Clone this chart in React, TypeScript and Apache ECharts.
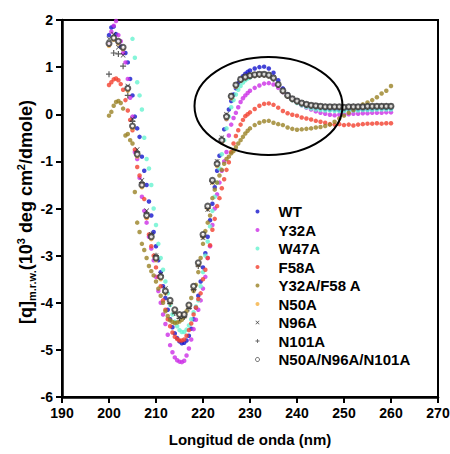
import React, { useEffect, useRef } from 'react';
import * as echarts from 'echarts';

// Wavelength grid (nm): 0.5 nm steps 200-229.5, then 1 nm steps 230-260
const wavelengths = [
  200, 200.5, 201, 201.5, 202, 202.5, 203, 203.5, 204, 204.5,
  205, 205.5, 206, 206.5, 207, 207.5, 208, 208.5, 209, 209.5,
  210, 210.5, 211, 211.5, 212, 212.5, 213, 213.5, 214, 214.5,
  215, 215.5, 216, 216.5, 217, 217.5, 218, 218.5, 219, 219.5,
  220, 220.5, 221, 221.5, 222, 222.5, 223, 223.5, 224, 224.5,
  225, 225.5, 226, 226.5, 227, 227.5, 228, 228.5, 229, 229.5,
  230, 231, 232, 233, 234, 235, 236, 237, 238, 239,
  240, 241, 242, 243, 244, 245, 246, 247, 248, 249,
  250, 251, 252, 253, 254, 255, 256, 257, 258, 259,
  260,
];

const seriesNames = ['WT', 'Y32A', 'W47A', 'F58A', 'Y32A/F58 A', 'N50A', 'N96A', 'N101A', 'N50A/N96A/N101A'];

const wt = [
  1.68, 1.84, 1.86, 1.7, 1.52, 1.44, 1.38, 1.3, 1.1, 0.75,
  0.4, -0.05, -0.3, -0.48, -0.9, -1.2, -1.5, -1.85, -2.15, -2.5,
  -2.8, -3.1, -3.35, -3.65, -3.9, -4.15, -4.35, -4.52, -4.65, -4.75,
  -4.82, -4.86, -4.85, -4.8, -4.7, -4.55, -4.35, -4.1, -3.85, -3.55,
  -3.25, -2.95, -2.6, -2.25, -1.9, -1.55, -1.2, -0.88, -0.55, -0.32,
  -0.1, 0.1, 0.28, 0.42, 0.55, 0.66, 0.74, 0.81, 0.86, 0.9,
  0.93, 0.97, 1.0, 1.01, 0.97, 0.88, 0.72, 0.55, 0.42, 0.33,
  0.27, 0.22, 0.18, 0.15, 0.13, 0.12, 0.11, 0.1, 0.1, 0.09,
  0.09, 0.1, 0.09, 0.1, 0.1, 0.11, 0.11, 0.12, 0.12, 0.12,
  0.12,
];

const y32a = [
  1.48, 1.75, 1.88, 1.98, 1.68, 1.55, 1.3, 1.1, 0.75, 0.35,
  -0.05, -0.8, -0.95, -1.35, -1.75, -2.05, -2.3, -2.6, -2.85, -3.1,
  -3.45, -3.75, -4.0, -4.25, -4.45, -4.68, -4.9, -5.05, -5.16, -5.22,
  -5.25, -5.26, -5.23, -5.12, -4.97, -4.78, -4.56, -4.36, -4.15, -3.95,
  -3.7, -3.45, -3.05, -2.8, -2.35, -2.0, -1.7, -1.45, -1.2, -1.0,
  -0.8, -0.45, -0.22, -0.08, 0.03, 0.15, 0.26, 0.34, 0.4, 0.45,
  0.5, 0.56, 0.61, 0.65, 0.66, 0.63, 0.56, 0.47, 0.4, 0.32,
  0.25, 0.19, 0.14, 0.1, 0.06, 0.03, 0.01, -0.01, -0.02, -0.01,
  0.0, 0.0, 0.01, 0.01, 0.02, 0.02, 0.03, 0.03, 0.03, 0.04,
  0.04,
];

const w47a = [
  null, null, null, null, null, null, null, null, null, null,
  1.6, 1.2, 0.68, 0.4, 0.1, -0.5, -0.95, -1.15, -1.5, -2.0,
  -2.35, -2.75, -3.05, -3.3, -3.55, -3.8, -4.05, -4.25, -4.4, -4.5,
  -4.58, -4.62, -4.62, -4.57, -4.48, -4.35, -4.2, -4.08, -3.95, -3.65,
  -3.35, -3.0, -2.7, -2.38, -2.05, -1.75, -1.45, -1.15, -0.85, -0.55,
  -0.3, -0.05, 0.15, 0.3, 0.42, 0.52, 0.6, 0.67, 0.72, 0.76,
  0.78, 0.82, 0.84, 0.85, 0.83, 0.76, 0.64, 0.5, 0.39, 0.3,
  0.24, 0.19, 0.15, 0.12, 0.1, 0.09, 0.08, 0.08, 0.07, 0.07,
  0.07, 0.08, 0.08, 0.08, 0.09, 0.09, 0.09, 0.1, 0.1, 0.1,
  0.1,
];

const f58a = [
  0.62, 0.68, 0.74, 0.76, 0.72, 0.64, 0.52, 0.3, 0.08, -0.12,
  -0.34, -0.75, -1.12, -1.3, -1.48, -1.8, -2.2, -2.55, -2.8, -3.0,
  -3.25, -3.45, -3.65, -3.95, -4.15, -4.35, -4.5, -4.63, -4.72, -4.77,
  -4.8, -4.8, -4.78, -4.7, -4.58, -4.44, -4.25, -4.1, -3.92, -3.8,
  -3.5, -3.3, -3.05, -2.78, -2.45, -2.22, -1.95, -1.78, -1.57, -1.38,
  -1.18, -1.02, -0.8, -0.62, -0.46, -0.34, -0.22, -0.12, -0.04, 0.0,
  0.04, 0.11, 0.18, 0.22, 0.23, 0.2, 0.14, 0.07, 0.02, -0.01,
  -0.03, -0.07, -0.09, -0.11, -0.14, -0.16, -0.18, -0.21, -0.22, -0.21,
  -0.23, -0.22, -0.24, -0.22, -0.21, -0.2, -0.2, -0.19, -0.2, -0.19,
  -0.19,
];

const y32aF58a = [
  -0.03, 0.05, 0.18, 0.26, 0.28, 0.24, 0.12, -0.45, -0.42, -0.55,
  -0.62, -1.65, -2.3, -2.5, -2.75, -2.88, -3.05, -3.22, -3.33, -3.42,
  -3.55, -3.7, -3.85, -4.0, -4.18, -4.28, -4.37, -4.41, -4.43, -4.42,
  -4.4, -4.36, -4.3, -4.18, -4.05, -3.9, -3.75, -3.62, -3.35, -3.05,
  -2.75, -2.48, -2.3, -2.15, -1.78, -1.6, -1.45, -1.3, -1.18, -1.05,
  -0.95, -0.9, -0.83, -0.78, -0.7, -0.62, -0.55, -0.48, -0.41, -0.35,
  -0.3, -0.23, -0.18, -0.15, -0.14, -0.18, -0.21, -0.23, -0.28, -0.31,
  -0.33, -0.32, -0.31, -0.3, -0.28, -0.27, -0.25, -0.22, -0.16, -0.09,
  -0.03, 0.03, 0.09, 0.15, 0.21, 0.25, 0.3, 0.36, 0.44, 0.5,
  0.6,
];

const n50a = [
  1.45, null, 1.58, null, 1.5, null, 1.38, null, 0.5, null,
  -0.3, null, -0.9, null, -1.55, null, -2.2, null, -2.65, null,
  -3.1, null, -3.5, null, -3.8, null, -4.0, null, -4.18, null,
  -4.27, null, -4.26, null, -4.08, null, -3.7, null, -3.2, null,
  -2.6, null, -2.0, null, -1.45, null, -1.1, null, -0.6, null,
  -0.1, null, 0.34, null, 0.58, null, 0.71, null, 0.77, null,
  0.8, 0.82, 0.83, 0.83, 0.81, 0.75, 0.61, 0.48, 0.38, 0.31,
  0.26, 0.22, 0.19, 0.17, 0.16, 0.15, 0.15, 0.14, 0.14, 0.14,
  0.14, 0.14, 0.15, 0.15, 0.15, 0.15, 0.16, 0.16, 0.16, 0.16,
  0.16,
];

const n96a = [
  1.6, null, 1.7, null, 1.42, null, 1.25, null, 0.6, null,
  -0.1, null, -0.75, null, -1.4, null, -2.05, null, -2.55, null,
  -3.0, null, -3.4, null, -3.7, null, -3.98, null, -4.2, null,
  -4.3, null, -4.28, null, -4.1, null, -3.7, null, -3.2, null,
  -2.62, null, -2.02, null, -1.45, null, -1.0, null, -0.5, null,
  0.0, null, 0.4, null, 0.63, null, 0.75, null, 0.8, null,
  0.83, 0.85, 0.86, 0.86, 0.84, 0.78, 0.64, 0.51, 0.41, 0.34,
  0.29, 0.25, 0.22, 0.2, 0.19, 0.18, 0.17, 0.17, 0.17, 0.16,
  0.16, 0.16, 0.17, 0.17, 0.17, 0.17, 0.18, 0.18, 0.18, 0.18,
  0.18,
];

const n101a = [
  0.85, null, 1.3, null, 1.28, null, 1.02, null, 0.4, null,
  -0.15, null, -0.8, null, -1.45, null, -2.1, null, -2.55, null,
  -3.0, null, -3.42, null, -3.78, null, -4.02, null, -4.22, null,
  -4.33, null, -4.3, null, -4.12, null, -3.72, null, -3.22, null,
  -2.6, null, -2.0, null, -1.42, null, -1.02, null, -0.52, null,
  -0.03, null, 0.39, null, 0.61, null, 0.73, null, 0.78, null,
  0.81, 0.83, 0.84, 0.84, 0.82, 0.76, 0.62, 0.49, 0.39, 0.32,
  0.27, 0.23, 0.2, 0.18, 0.17, 0.16, 0.16, 0.15, 0.15, 0.15,
  0.15, 0.15, 0.16, 0.16, 0.16, 0.16, 0.16, 0.17, 0.17, 0.17,
  0.17,
];

const triple = [
  1.5, null, 1.62, null, 1.55, null, 1.42, null, 0.55, null,
  -0.25, null, -0.85, null, -1.5, null, -2.15, null, -2.6, null,
  -3.05, null, -3.45, null, -3.75, null, -3.95, null, -4.15, null,
  -4.25, null, -4.25, null, -4.05, null, -3.65, null, -3.15, null,
  -2.55, null, -1.95, null, -1.4, null, -1.05, null, -0.55, null,
  -0.05, null, 0.38, null, 0.62, null, 0.74, null, 0.79, null,
  0.82, 0.84, 0.85, 0.85, 0.83, 0.77, 0.63, 0.5, 0.4, 0.33,
  0.28, 0.24, 0.21, 0.19, 0.18, 0.17, 0.16, 0.16, 0.16, 0.16,
  0.15, 0.16, 0.16, 0.16, 0.16, 0.17, 0.17, 0.17, 0.17, 0.17,
  0.17,
];

const seriesValues = [wt, y32a, w47a, f58a, y32aF58a, n50a, n96a, n101a, triple];

const FONT = "'Liberation Sans', Arial, Helvetica, sans-serif";
const CROSS = 'path://M0,1L1,0L5,4L9,0L10,1L6,5L10,9L9,10L5,6L1,10L0,9L4,5Z';
const PLUS = 'path://M4,0L6,0L6,4L10,4L10,6L6,6L6,10L4,10L4,6L0,6L0,4L4,4Z';

const styles = [
  { color: '#1414cc', symbol: 'circle', size: 4.5 },
  { color: '#cc2ee6', symbol: 'circle', size: 4.5 },
  { color: '#66f2d0', symbol: 'circle', size: 4.5 },
  { color: '#f2402e', symbol: 'circle', size: 4.5 },
  { color: '#9a8226', symbol: 'circle', size: 4.5 },
  { color: '#f5b041', symbol: 'circle', size: 4.5 },
  { color: '#222222', symbol: CROSS, size: 5 },
  { color: '#333333', symbol: PLUS, size: 6 },
  { color: '#3a3a3a', symbol: 'emptyCircle', size: 5 },
];

function toPoints(vals: (number | null)[]) {
  const pts: [number, number][] = [];
  wavelengths.forEach((w, i) => {
    const v = vals[i];
    if (v !== null && v !== undefined) pts.push([w, v]);
  });
  return pts;
}

export default function App() {
  const ref = useRef<HTMLDivElement>(null);

  useEffect(() => {
    if (!ref.current) return;
    const chart = echarts.init(ref.current, null, { renderer: 'svg' });

    const series = seriesNames.map((name, i) => ({
      name,
      type: 'scatter',
      data: toPoints(seriesValues[i]),
      symbol: styles[i].symbol,
      symbolSize: styles[i].size,
      itemStyle:
        styles[i].symbol === 'emptyCircle'
          ? { color: styles[i].color, borderColor: styles[i].color, borderWidth: 0.9 }
          : { color: styles[i].color },
      clip: true,
      z: 2 + i,
    }));

    const legendData = seriesNames.map((name, i) =>
      styles[i].symbol === 'emptyCircle'
        ? { name, icon: 'circle', itemStyle: { color: '#ffffff', borderColor: '#3a3a3a', borderWidth: 1 } }
        : { name }
    );

    chart.setOption({
      animation: false,
      backgroundColor: '#ffffff',
      textStyle: { fontFamily: FONT },
      grid: {
        left: 62,
        right: 12,
        top: 20,
        bottom: 57,
        containLabel: false,
        outerBoundsMode: 'none',
        show: true,
        borderColor: '#000',
        borderWidth: 2,
        backgroundColor: 'transparent',
      },
      xAxis: {
        type: 'value',
        min: 190,
        max: 270,
        interval: 10,
        name: 'Longitud de onda (nm)',
        nameLocation: 'middle',
        nameGap: 35,
        nameTextStyle: { fontFamily: FONT, fontWeight: 'bold', fontSize: 15, color: '#000' },
        axisLine: { show: true, onZero: false, lineStyle: { color: '#000', width: 2.5 } },
        axisTick: { show: true, inside: false, length: 6, lineStyle: { color: '#000', width: 2 } },
        axisLabel: { show: true, margin: 9, fontFamily: FONT, fontWeight: 'bold', fontSize: 14, color: '#000' },
        splitLine: { show: false },
      },
      yAxis: {
        type: 'value',
        min: -6,
        max: 2,
        interval: 1,
        axisLine: { show: true, onZero: false, lineStyle: { color: '#000', width: 2.5 } },
        axisTick: { show: true, inside: false, length: 6, lineStyle: { color: '#000', width: 2 } },
        axisLabel: { show: true, margin: 9, fontFamily: FONT, fontWeight: 'bold', fontSize: 14, color: '#000' },
        splitLine: { show: false },
      },
      legend: {
        show: true,
        orient: 'vertical',
        left: 250,
        top: 199,
        itemWidth: 32,
        itemHeight: 4,
        itemGap: 3.5,
        selectedMode: false,
        data: legendData,
        textStyle: { fontFamily: FONT, fontWeight: 'bold', fontSize: 15, color: '#000' },
      },
      graphic: [
        {
          type: 'ellipse',
          shape: { cx: 268.5, cy: 106, rx: 74, ry: 49 },
          style: { fill: 'none', stroke: '#000', lineWidth: 2 },
          z: 100,
          silent: true,
        },
        {
          type: 'text',
          x: 26,
          y: 212,
          rotation: Math.PI / 2,
          style: {
            text: '{b|[q]}{s|m.r.w.}{b|(10}{p|3}{b| deg cm}{p|2}{b|/dmole)}',
            align: 'center',
            verticalAlign: 'middle',
            fill: '#000',
            rich: {
              b: { fontFamily: FONT, fontWeight: 'bold', fontSize: 18, lineHeight: 22, fill: '#000' },
              s: { fontFamily: FONT, fontWeight: 'bold', fontSize: 11, lineHeight: 12, verticalAlign: 'bottom', fill: '#000' },
              p: { fontFamily: FONT, fontWeight: 'bold', fontSize: 11, lineHeight: 12, verticalAlign: 'top', fill: '#000' },
            },
          },
          z: 100,
          silent: true,
        },
      ],
      series,
    });

    return () => {
      chart.dispose();
    };
  }, []);

  return (
    <div
      ref={ref}
      style={{ position: 'absolute', left: 0, top: 0, width: 450, height: 454, background: '#fff' }}
    />
  );
}
